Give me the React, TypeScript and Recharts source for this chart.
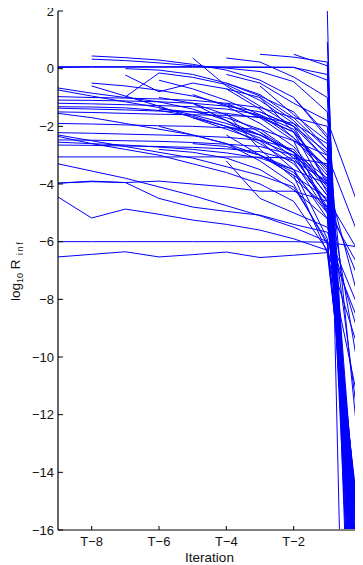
import React from 'react';
import { LineChart, Line, XAxis, YAxis, Label } from 'recharts';

// iteration offsets relative to the final iteration T
const iterations = [-9, -8, -7, -6, -5, -4, -3, -2, -1, 0];
const xTicks = [-8, -6, -4, -2, 0];
const yTicks = [2, 0, -2, -4, -6, -8, -10, -12, -14, -16];

// runs that already exist at T-9
const runsFromT9: (number | null)[][] = [
  [0.07, 0.07, 0.07, 0.07, 0.07, 0.06, 0.06, 0.05, -0.4, -22],
  [0.04, 0.05, 0.05, 0.05, 0.05, 0.05, 0.04, 0.04, -0.2, -25],
  [-0.67, -0.85, -1.0, -1.15, -1.4, -1.8, -2.3, -2.9, -3.8, -20],
  [-0.74, -0.95, -1.15, -1.35, -1.6, -1.9, -2.3, -2.9, -4.4, -21],
  [-0.97, -1.0, -1.02, -1.05, -1.1, -1.2, -1.35, -1.7, -2.8, -18],
  [-1.09, -1.1, -1.12, -1.15, -1.2, -1.3, -1.5, -2.0, -3.2, -19],
  [-1.32, -1.33, -1.36, -1.45, -1.65, -2.0, -2.6, -3.3, -4.6, -17],
  [-1.37, -1.4, -1.43, -1.47, -1.5, -1.55, -1.7, -2.2, -3.6, -23],
  [-1.5, -1.52, -1.55, -1.58, -1.6, -1.62, -1.68, -1.9, -2.6, -20],
  [-1.55, -1.7, -1.9, -2.1, -2.3, -2.6, -3.0, -3.6, -5.0, -19],
  [-1.9, -1.92, -1.95, -1.98, -2.0, -2.05, -2.1, -2.5, -3.4, -18],
  [-2.22, -2.24, -2.27, -2.3, -2.33, -2.38, -2.48, -2.8, -4.2, -21],
  [-2.3, -2.5, -2.7, -2.9, -3.1, -3.4, -3.7, -4.1, -6.0, -17],
  [-2.47, -2.48, -2.5, -2.52, -2.56, -2.62, -2.7, -3.0, -4.8, -19],
  [-2.65, -2.66, -2.68, -2.7, -2.73, -2.78, -2.88, -3.2, -5.0, -16.8],
  [-3.06, -3.06, -3.06, -3.06, -3.06, -3.06, -3.07, -3.1, -3.3, -20],
  [-3.3, -3.55, -3.8, -4.1, -4.4, -4.75, -5.1, -5.5, -6.0, -9],
  [-3.97, -3.9, -3.95, -3.9, -4.0, -4.1, -4.25, -4.25, -4.6, -7.5],
  [-4.45, -5.18, -4.87, -5.05, -5.25, -5.4, -5.6, -5.9, -6.3, -10],
  [-6, -6, -6, -6, -6, -6, -6, -6, -6.02, -6.2],
  [-6.53, -6.44, -6.35, -6.53, -6.45, -6.36, -6.55, -6.47, -6.38, -12],
  [-1.2, -1.22, -1.25, -1.28, -1.32, -1.4, -1.6, -2.1, -3.9, -24],
  [-2.55, -2.6, -2.65, -2.72, -2.8, -2.92, -3.1, -3.5, -5.9, -18.5],
  [-2.35, -2.6, -2.8, -3.0, -3.3, -3.6, -4.0, -4.6, -6.3, -16.2],
  [-3.97, -3.92, -3.95, -4.5, -4.8, -4.95, -5.08, -5.4, -5.67, -8.5],
];

// runs starting at T-8
const runsFromT8: (number | null)[][] = [
  [null, 0.44, 0.38, 0.3, 0.15, -0.05, -0.4, -1.0, -2.4, -25],
  [null, 0.33, 0.28, 0.2, 0.1, 0.02, -0.1, -0.45, -1.5, -22],
  [null, -0.5, -0.6, -0.75, -0.95, -1.25, -1.65, -2.2, -3.5, -24],
  [null, -0.6, -0.95, -1.3, -1.7, -2.1, -2.5, -3.0, -4.0, -20],
];

// runs starting at T-7
const runsFromT7: (number | null)[][] = [
  [null, null, 0.0, -0.05, -0.2, -0.5, -0.95, -1.5, -2.8, -26],
  [null, null, -0.22, -0.8, -0.5, -0.7, -1.0, -1.8, -3.0, -23],
  [null, null, -0.98, -0.15, -0.3, -0.55, -1.1, -1.9, -3.2, -21],
];

// shorter runs
const shortRuns: (number | null)[][] = [
  [null, null, null, null, 0.37, -0.6, -1.3, -2.0, -2.9, -27],
  [null, null, null, null, null, 0.37, 0.23, -0.29, -1.0, -26],
  [null, null, null, null, null, null, 0.5, 0.4, 0.23, -28],
  [null, null, null, null, null, null, null, 0.5, 0.1, -30],
  [null, null, null, null, null, null, null, null, 2, -48],
  [null, null, null, null, null, null, null, null, 0.93, -32],
  [null, null, null, null, null, -1.55, -2.8, -3.8, -4.8, -20],
  [null, null, null, null, -1.2, -1.8, -2.5, -3.5, -5.2, -18],
  [null, null, null, -2.0, -2.3, -2.6, -3.2, -4.0, -6.1, -17.5],
  [null, null, null, null, null, -2.3, -3.0, -3.7, -6.4, -16.5],
  [null, null, null, -0.4, -0.7, -1.1, -1.6, -2.4, -3.7, -22],
  [null, null, null, null, -0.9, -1.3, -1.9, -2.7, -4.1, -21],
  [null, null, null, null, null, -0.7, -1.4, -2.4, -3.4, -19],
  [null, null, null, null, null, null, -1.0, -2.2, -4.3, -18],
  [null, null, null, null, null, null, -0.6, -1.6, -2.5, -23],
  [null, null, null, -1.4, -1.5, -1.7, -2.1, -2.9, -4.9, -7],
  [null, null, null, null, -2.6, -2.7, -3.0, -3.7, -4.5, -6.5],
  [null, null, null, null, null, -2.0, -2.4, -3.2, -3.9, -8.3],
  [null, null, null, null, null, null, -3.0, -3.5, -4.0, -11],
  [null, null, null, null, null, -0.2, -0.5, -1.2, -1.8, -5.0],
  [null, null, null, null, null, null, null, -1.0, -2.3, -14],
  [null, null, null, null, null, null, null, -2.5, -3.0, -6.0],
  [null, null, null, null, null, null, -1.5, -2.0, -4.0, -13],
  [null, null, null, null, null, -3.2, -4.5, -5.0, -5.5, -9.5],
  [null, null, null, -1.0, -1.2, -1.6, -2.2, -3.1, -4.6, -19.5],
  [null, null, null, null, -1.7, -2.0, -2.3, -2.9, -4.0, -20.5],
  [null, null, null, null, null, -1.2, -1.7, -2.5, -5.0, -17.2],
  [null, null, null, null, null, null, -2.2, -2.9, -4.4, -18.8],
  [null, null, null, -2.8, -2.9, -3.1, -3.5, -4.2, -5.2, -16.8],
  [null, null, null, null, null, -0.5, -0.9, -1.7, -2.0, -21.5],
];

const allRuns = [...runsFromT9, ...runsFromT8, ...runsFromT7, ...shortRuns];

const rows = iterations.map((x, i) => {
  const r: Record<string, number | null> = { x };
  allRuns.forEach((run, j) => {
    r['s' + j] = run[i];
  });
  return r;
});

const FONT = '"Liberation Sans", Arial, Helvetica, sans-serif';
const minus = (v: number) => (v < 0 ? '\u2212' + Math.abs(v) : String(v));

const YLabel = (props: any) => {
  const vb = props.viewBox || {};
  const cy = (vb.y ?? 11) + (vb.height ?? 519) / 2;
  const cx = 12;
  return (
    <text
      x={cx}
      y={cy}
      transform={`rotate(-90, ${cx}, ${cy})`}
      textAnchor="middle"
      fontFamily={FONT}
      fontSize={13.5}
      fill="#111"
    >
      log
      <tspan fontSize={9} dy={3}>10</tspan>
      <tspan dy={-3}> R</tspan>
      <tspan fontSize={8.5} dy={3} letterSpacing={2}> inf</tspan>
    </text>
  );
};

const XLabel = (props: any) => {
  const vb = props.viewBox || {};
  const cx = (vb.x ?? 50) + (vb.width ?? 303) / 2;
  return (
    <text x={cx} y={562} textAnchor="middle" fontFamily={FONT} fontSize={13.5} fill="#111">
      Iteration
    </text>
  );
};

export default function App() {
  return (
    <div style={{ marginTop: -8, width: 355, height: 565, overflow: 'hidden' }}>
      <LineChart
        width={355}
        height={565}
        data={rows}
        margin={{ top: 11, right: 2, bottom: 0, left: 0 }}
        style={{ fontFamily: FONT }}
      >
        <XAxis
          dataKey="x"
          type="number"
          domain={[-9, 0]}
          ticks={xTicks}
          interval={0}
          tickFormatter={(v: number) => (v === 0 ? 'T' : 'T\u2212' + Math.abs(v))}
          height={35}
          tickSize={-4}
          tickMargin={11}
          axisLine={{ stroke: '#808080', strokeWidth: 2 }}
          tickLine={{ stroke: '#000', strokeWidth: 1 }}
          tick={{ fill: '#111', fontSize: 13, fontFamily: FONT }}
          allowDataOverflow
        >
          <Label content={<XLabel />} />
        </XAxis>
        <YAxis
          type="number"
          domain={[-16, 2]}
          ticks={yTicks}
          interval={0}
          tickFormatter={minus}
          width={50}
          tickSize={-5}
          tickMargin={9}
          axisLine={{ stroke: '#000', strokeWidth: 1.2 }}
          tickLine={{ stroke: '#000', strokeWidth: 1 }}
          tick={{ fill: '#111', fontSize: 13, fontFamily: FONT }}
          allowDataOverflow
        >
          <Label content={<YLabel />} />
        </YAxis>
        {allRuns.map((_, j) => (
          <Line
            key={j}
            dataKey={'s' + j}
            stroke="#0000ff"
            strokeWidth={1}
            dot={false}
            activeDot={false}
            isAnimationActive={false}
            connectNulls={false}
          />
        ))}
      </LineChart>
    </div>
  );
}
